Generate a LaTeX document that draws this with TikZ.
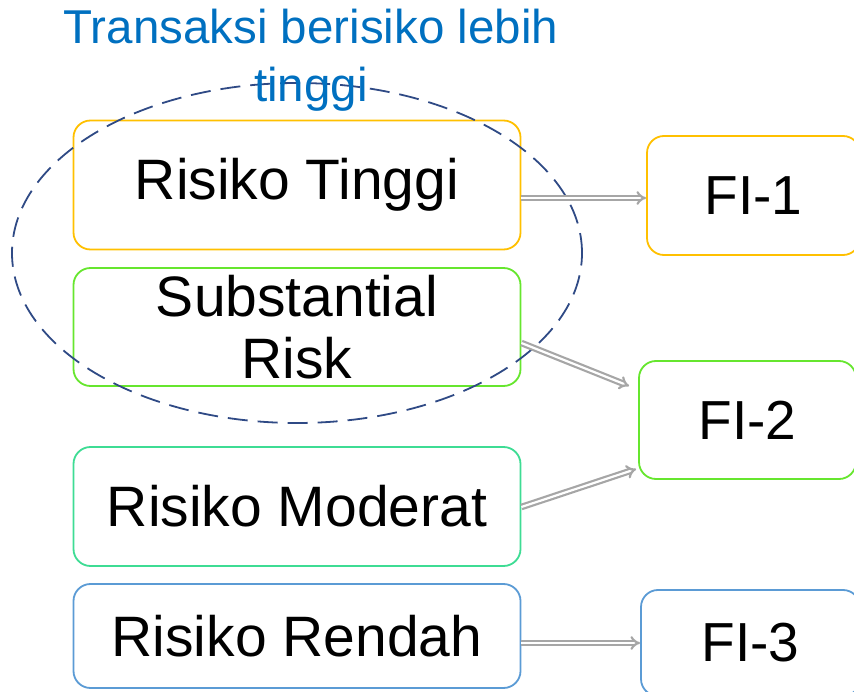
\documentclass[tikz,border=0pt]{standalone}
\usepackage{fontspec}
\setmainfont{Liberation Sans}
\usetikzlibrary{arrows.meta,shapes.geometric}
\definecolor{ink}{HTML}{000000}
\definecolor{titleblue}{HTML}{0070C0}
\definecolor{ringnavy}{HTML}{2F4A85}
\definecolor{amber}{HTML}{FFC000}
\definecolor{lime}{HTML}{66E62E}
\definecolor{mint}{HTML}{3EDC94}
\definecolor{sky}{HTML}{5B9BD5}
\definecolor{arrowgray}{HTML}{A6A6A6}
\tikzset{
  basebox/.style={draw,fill=white,rounded corners=17pt,line width=1.8pt,align=center,text=ink,inner sep=0pt},
  riskbox/.style={basebox,minimum width=447pt,font=\fontsize{57}{62}\selectfont},
  fibox/.style={basebox,font=\fontsize{55}{62}\selectfont},
  dblarrow/.style={-{Implies},draw=arrowgray,double=white,double distance=2.2pt,line width=2.2pt}
}
\begin{document}
\begin{tikzpicture}[x=1pt,y=-1pt]
    \useasboundingbox (0,0) rectangle (854,692);
    \clip (0,0) rectangle (854,692);
    % left column
    \node[riskbox,draw=amber,minimum height=129pt] (tinggi) at (297,185) {Risiko Tinggi};
    \node[riskbox,draw=lime,minimum height=118pt] (subst) at (297,327) {Substantial\\Risk};
    \node[riskbox,draw=mint,minimum height=119pt] (moderat) at (297,506.5) {Risiko Moderat};
    \node[riskbox,draw=sky,minimum height=104pt] (rendah) at (297,636) {Risiko Rendah};
    % right column
    \node[fibox,draw=amber,minimum width=213pt,minimum height=119pt] (fi1) at (753.5,195.5) {FI-1};
    \node[fibox,draw=lime,minimum width=217pt,minimum height=118pt] (fi2) at (747.5,420) {FI-2};
    \node[fibox,draw=sky,minimum width=219pt,minimum height=106pt] (fi3) at (750.5,643) {FI-3};
    % ring round the higher risks
    \node[ellipse,draw=ringnavy,line width=1.8pt,dash pattern=on 20pt off 10pt,
      minimum width=570pt,minimum height=340pt,inner sep=0pt] (ring) at (297,253) {};
    \node[text=titleblue,align=center,font=\fontsize{47.5}{58}\selectfont] (title) at (311,60)
      {Transaksi berisiko lebih\\tinggi};
    % links
    \draw[dblarrow] ([yshift=-13pt]tinggi.east) -- ([yshift=-2.5pt]fi1.west);
    \draw[dblarrow] ([yshift=-16pt]subst.east) -- ([xshift=-9pt,yshift=34pt]fi2.west);
    \draw[dblarrow] ([yshift=-0.5pt]moderat.east) -- ([xshift=-2pt,yshift=-49pt]fi2.west);
    \draw[dblarrow] ([yshift=-7pt]rendah.east) -- (fi3.west);
\end{tikzpicture}
\end{document}
